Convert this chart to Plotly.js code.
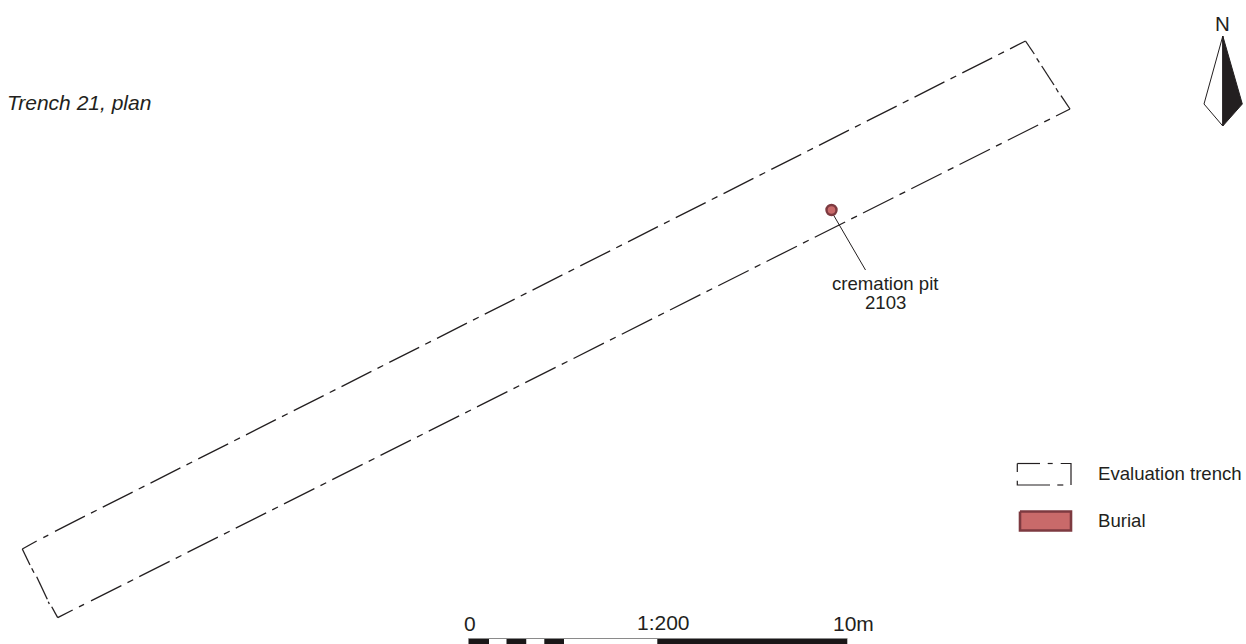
<!DOCTYPE html>
<html><head><meta charset="utf-8">
<script src="https://cdn.plot.ly/plotly-3.0.1.min.js"></script>
<style>html,body{margin:0;padding:0;background:#fff}#c{width:1246px;height:644px}</style></head>
<body><div id="c"></div>
<script>
// Trench outline: long edges (dash-dot)
const trenchUpperX = [55, 1025.5];
const trenchUpperY = [531.3, 41];
const trenchLowerX = [91, 1070];
const trenchLowerY = [600.9, 109];
// Trench outline: dash pieces at the corners and on the short ends
const trenchPiecesX = [22.3,36.7,null,43.3,48.3,null,
  57.7,72.7,null,79,84,null,
  22.3,30,null,31.7,34,null,36.7,47.3,null,48.3,49.3,null,51.7,57.7,null,
  1025.5,1034.3,null,1036.7,1039.3,null,1041.7,1054,null,1056,1058.3,null,1061,1070];
const trenchPiecesY = [549,541,null,537.6,535.1,null,
  617.6,610,null,606.9,604.3,null,
  549,565,null,568.3,572.7,null,576.7,599.3,null,601.7,604,null,606.7,617.6,null,
  41,54,null,58.3,62.3,null,66,85,null,88.3,92.3,null,95.7,109];
// Cremation pit and leader
const pitX = [831.5];
const pitY = [210];
const leaderX = [833.5, 865.5];
const leaderY = [215, 270];
// North arrow
const arrowX = [1222.8, 1204, 1222.8, 1222.8];
const arrowY = [36, 104, 126, 36];
const arrowDarkX = [1222.8, 1242.3, 1222.8, 1222.8];
const arrowDarkY = [36, 104, 126, 36];
// Legend swatches
const legendTrenchX = [1017.3,1040,null,1047.7,1052.7,null,1060.7,1071,1071,null,1063.3,1057.3,null,1050,1017.3,1017.3,null,1017.3,1017.3];
const legendTrenchY = [463.5,463.5,null,463.5,463.5,null,463.5,463.5,485,null,485,485,null,485,485,480.7,null,472,463.5];
const legendBurialX = [1020, 1071, 1071, 1020, 1020];
const legendBurialY = [511.5, 511.5, 530.5, 530.5, 511.5];
// Scale bar block edges
const scaleEdges = [468.5, 489, 506.5, 526.5, 544.3, 564, 657.3, 847.3];
const scaleFills = ['#1a1718','#ffffff','#1a1718','#ffffff','#1a1718','#ffffff','#1a1718'];
const scaleTop = 638.5, scaleBottom = 644;
// Text
const labels = [
  {t:'<i>Trench 21, plan</i>', x:5, y:102, s:21, a:'left'},
  {t:'cremation pit', x:885.5, y:283, s:18.6, a:'center'},
  {t:'2103', x:885.5, y:302, s:18.6, a:'center'},
  {t:'Evaluation trench', x:1096, y:473, s:18.6, a:'left'},
  {t:'Burial', x:1096, y:520, s:18.6, a:'left'},
  {t:'N', x:1222.5, y:23, s:20.5, a:'center'},
  {t:'0', x:470, y:623.5, s:21, a:'center'},
  {t:'1:200', x:663, y:622.5, s:21, a:'center'},
  {t:'10m', x:853, y:623.5, s:21, a:'center'}
];
const ink = '#231f20', burialFill = '#c96a6a', burialEdge = '#7d3a40';
const line = (x,y,w,d,c) => ({x,y,mode:'lines',hoverinfo:'skip',showlegend:false,connectgaps:false,
  line:{color:c||ink,width:w,dash:d||'solid'}});
const traces = [
  line(trenchUpperX,trenchUpperY,1.3,'33.5px,6.8px,6.4px,6.8px'),
  line(trenchLowerX,trenchLowerY,1.3,'34px,6.8px,6.4px,6.8px'),
  line(trenchPiecesX,trenchPiecesY,1.3),
  line(leaderX,leaderY,1),
  {x:pitX,y:pitY,mode:'markers',hoverinfo:'skip',showlegend:false,
   marker:{size:10,color:burialFill,line:{color:burialEdge,width:2.4}}},
  Object.assign(line(arrowX,arrowY,1),{fill:'toself',fillcolor:'#ffffff'}),
  Object.assign(line(arrowDarkX,arrowDarkY,1),{fill:'toself',fillcolor:ink}),
  line(legendTrenchX,legendTrenchY,1.2),
  Object.assign(line(legendBurialX,legendBurialY,2.6,null,burialEdge),{fill:'toself',fillcolor:burialFill})
];
const shapes = scaleFills.map((f,i)=>({type:'rect',xref:'x',yref:'y',
  x0:scaleEdges[i],x1:scaleEdges[i+1],y0:scaleTop,y1:scaleBottom,
  fillcolor:f,line:{width:0},layer:'below'}));
shapes.push({type:'line',xref:'x',yref:'y',x0:scaleEdges[0],x1:scaleEdges[7],y0:scaleTop,y1:scaleTop,
  line:{color:'#8a8a8a',width:1}});
const annotations = labels.map(l=>({text:l.t,x:l.x,y:l.y,xref:'x',yref:'y',showarrow:false,
  xanchor:l.a,yanchor:'middle',font:{family:'"Liberation Sans",Arial,sans-serif',size:l.s,color:ink}}));
const axis = r => ({range:r,visible:false,fixedrange:true,showgrid:false,zeroline:false});
Plotly.newPlot('c',traces,{
  width:1246,height:644,margin:{l:0,r:0,t:0,b:0},
  paper_bgcolor:'#fff',plot_bgcolor:'#fff',
  xaxis:axis([0,1246]),yaxis:axis([644,0]),
  shapes,annotations,showlegend:false
},{displayModeBar:false,staticPlot:true});
</script></body></html>
